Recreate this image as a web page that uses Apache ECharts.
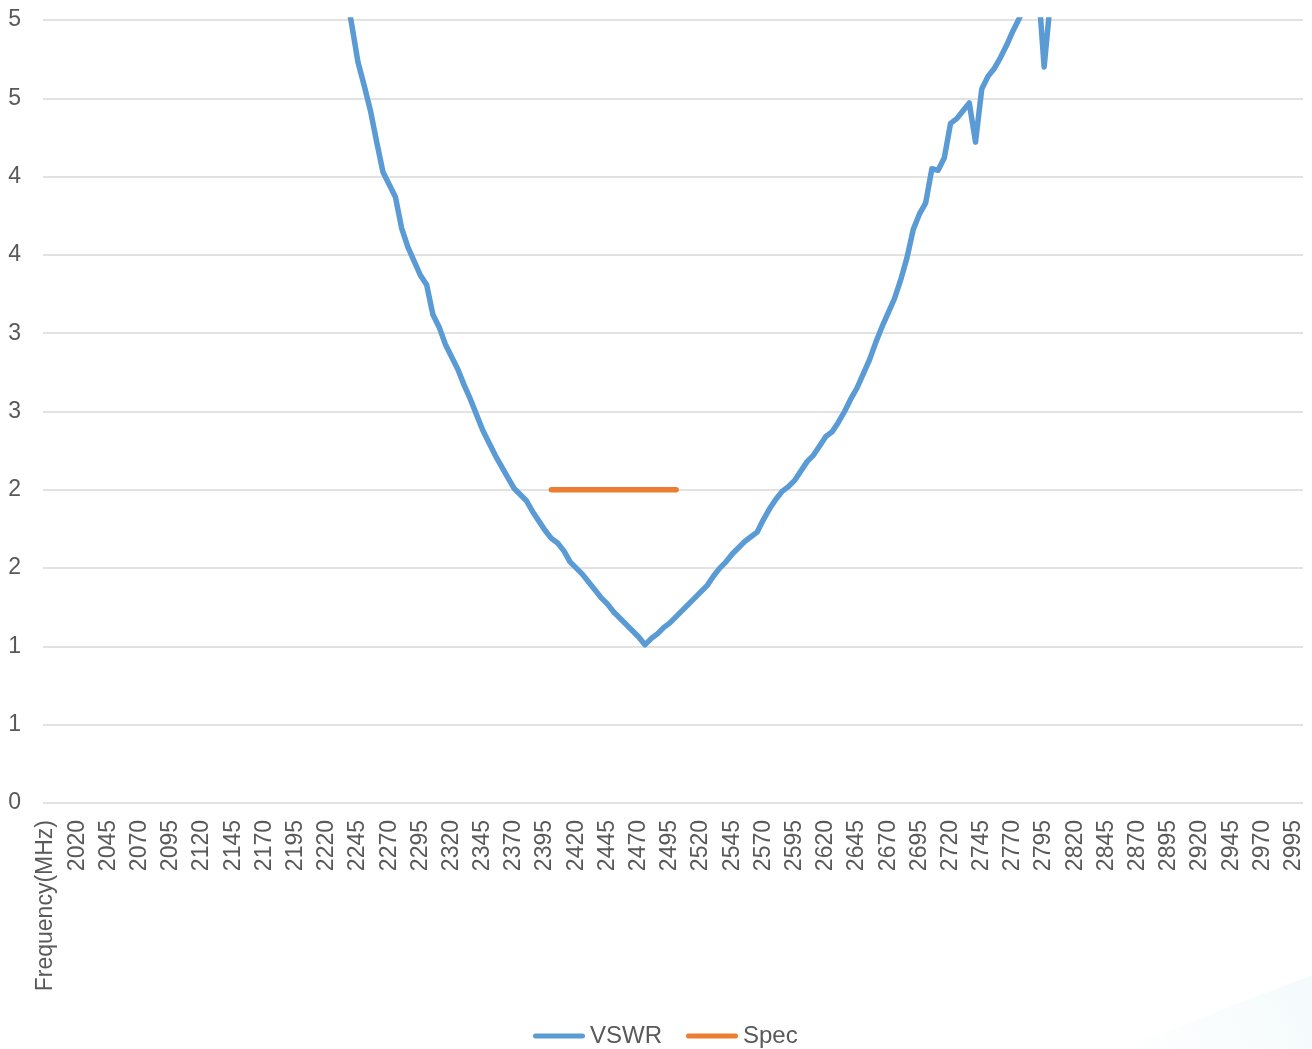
<!DOCTYPE html>
<html>
<head>
<meta charset="utf-8">
<title>VSWR</title>
<script src="https://cdn.jsdelivr.net/npm/echarts@6/dist/echarts.min.js"></script>
<style>
  html, body { margin: 0; padding: 0; background: #fff; }
  #chart { width: 1312px; height: 1049px; }
</style>
</head>
<body>
<div id="chart"></div>
<script>
// first category is the header cell that Excel took as a category
const headerCategory = 'Frequency(MHz)'
const freqs = [
  2000, 2005, 2010, 2015, 2020, 2025, 2030, 2035, 2040, 2045, 2050, 2055, 2060, 2065, 2070, 2075, 2080, 2085, 2090, 2095,
  2100, 2105, 2110, 2115, 2120, 2125, 2130, 2135, 2140, 2145, 2150, 2155, 2160, 2165, 2170, 2175, 2180, 2185, 2190, 2195,
  2200, 2205, 2210, 2215, 2220, 2225, 2230, 2235, 2240, 2245, 2250, 2255, 2260, 2265, 2270, 2275, 2280, 2285, 2290, 2295,
  2300, 2305, 2310, 2315, 2320, 2325, 2330, 2335, 2340, 2345, 2350, 2355, 2360, 2365, 2370, 2375, 2380, 2385, 2390, 2395,
  2400, 2405, 2410, 2415, 2420, 2425, 2430, 2435, 2440, 2445, 2450, 2455, 2460, 2465, 2470, 2475, 2480, 2485, 2490, 2495,
  2500, 2505, 2510, 2515, 2520, 2525, 2530, 2535, 2540, 2545, 2550, 2555, 2560, 2565, 2570, 2575, 2580, 2585, 2590, 2595,
  2600, 2605, 2610, 2615, 2620, 2625, 2630, 2635, 2640, 2645, 2650, 2655, 2660, 2665, 2670, 2675, 2680, 2685, 2690, 2695,
  2700, 2705, 2710, 2715, 2720, 2725, 2730, 2735, 2740, 2745, 2750, 2755, 2760, 2765, 2770, 2775, 2780, 2785, 2790, 2795,
  2800, 2805, 2810, 2815, 2820, 2825, 2830, 2835, 2840, 2845, 2850, 2855, 2860, 2865, 2870, 2875, 2880, 2885, 2890, 2895,
  2900, 2905, 2910, 2915, 2920, 2925, 2930, 2935, 2940, 2945, 2950, 2955, 2960, 2965, 2970, 2975, 2980, 2985, 2990, 2995,
  3000
]

// 2000 - 2235 (off the top of the plot)
const vswrLow = [
  15.9, 15.8, 15.8, 15.8, 15.7, 15.7, 15.6, 15.6, 15.5, 15.4, 15.3, 15.2, 15.0, 14.9, 14.7, 14.5, 14.3, 14.1, 13.9, 13.6,
  13.4, 13.1, 12.8, 12.5, 12.2, 11.9, 11.6, 11.3, 10.9, 10.6, 10.3, 9.95, 9.61, 9.27, 8.93, 8.60, 8.27, 7.95, 7.63, 7.32,
  7.02, 6.73, 6.45, 6.18, 5.92, 5.67, 5.43, 5.19
]
// 2240 - 2800
const vswrBand = [
  4.97, 4.73, 4.58, 4.42, 4.22, 4.03, 3.95, 3.87, 3.67, 3.55,
  3.46, 3.37, 3.31, 3.12, 3.04, 2.93, 2.85, 2.77, 2.67, 2.58,
  2.48, 2.38, 2.30, 2.22, 2.15, 2.08, 2.01, 1.97, 1.93, 1.86,
  1.80, 1.74, 1.69, 1.66, 1.61, 1.54, 1.50, 1.46, 1.41, 1.36,
  1.31, 1.27, 1.22, 1.18, 1.14, 1.10, 1.06, 1.01, 1.05, 1.08,
  1.12, 1.15, 1.19, 1.23, 1.27, 1.31, 1.35, 1.39, 1.45, 1.50,
  1.54, 1.59, 1.63, 1.67, 1.70, 1.73, 1.81, 1.88, 1.94, 1.99,
  2.02, 2.06, 2.12, 2.18, 2.22, 2.28, 2.34, 2.37, 2.43, 2.50,
  2.58, 2.65, 2.74, 2.83, 2.94, 3.04, 3.13, 3.22, 3.34, 3.48,
  3.66, 3.76, 3.83, 4.05, 4.04, 4.12, 4.34, 4.37, 4.42, 4.47,
  4.22, 4.56, 4.64, 4.69, 4.76, 4.84, 4.93, 5.01, 5.09, 5.17,
  5.25, 4.70, 5.12
]
// 2805 - 3000 (off the top of the plot)
const vswrHigh = [
  5.30, 5.45, 5.60, 5.78, 5.95, 6.13, 6.32, 6.52, 6.73, 6.94, 7.15, 7.37, 7.60, 7.83, 8.06, 8.30, 8.54, 8.79, 9.04, 9.29,
  9.55, 9.80, 10.1, 10.3, 10.6, 10.8, 11.1, 11.3, 11.6, 11.8, 12.0, 12.3, 12.5, 12.7, 12.9, 13.1, 13.3, 13.5, 13.7, 13.9
]
const vswr = vswrLow.concat(vswrBand, vswrHigh)

const specFreqs = [2400, 2500]
const specLevel = [2, 2]

// Excel showed 0.5 steps rounded to whole numbers
const yTickLabels = ['0', '1', '1', '2', '2', '3', '3', '4', '4', '5', '5']

const textColor = '#595959'
const fontFamily = '"Liberation Sans", Arial, sans-serif'
const pill = 'path://M2.5,0H49.5A2.5,2.5,0,0,1,49.5,5H2.5A2.5,2.5,0,0,1,2.5,0Z'

const categories = [headerCategory].concat(freqs.map(String))

const chart = echarts.init(document.getElementById('chart'))
chart.setOption({
  animation: false,
  color: ['#5B9BD5', '#ED7D31'],
  textStyle: { fontFamily: fontFamily },
  grid: { left: 43, right: 9, top: 20, bottom: 246, containLabel: false },
  // faint corner decoration of the slide background
  graphic: [
    {
      type: 'polygon',
      silent: true,
      z: -10,
      shape: { points: [[1120, 1049], [1312, 975], [1312, 1049]] },
      style: {
        fill: new echarts.graphic.LinearGradient(0, 1, 1, 0, [
          { offset: 0, color: 'rgba(230,245,248,0)' },
          { offset: 1, color: 'rgba(230,245,248,0.45)' }
        ])
      }
    }
  ],
  legend: {
    left: 528,
    top: 1019,
    itemWidth: 52,
    itemHeight: 5,
    itemGap: 24,
    textStyle: { color: textColor, fontSize: 24, fontFamily: fontFamily },
    data: [
      { name: 'VSWR', icon: pill },
      { name: 'Spec', icon: pill }
    ]
  },
  xAxis: {
    type: 'category',
    data: categories,
    boundaryGap: true,
    axisLine: { show: false },
    axisTick: { show: false },
    axisLabel: {
      interval: 4,
      rotate: 90,
      margin: 17,
      color: textColor,
      fontSize: 23,
      fontFamily: fontFamily
    }
  },
  yAxis: {
    type: 'value',
    min: 0,
    max: 5,
    interval: 0.5,
    axisLine: { show: false },
    axisTick: { show: false },
    axisLabel: {
      margin: 22,
      color: textColor,
      fontSize: 23,
      fontFamily: fontFamily,
      formatter: (v) => yTickLabels[Math.round(v / 0.5)]
    },
    splitLine: { lineStyle: { color: '#d9d9d9', width: 1.5 } }
  },
  series: [
    {
      name: 'VSWR',
      type: 'line',
      data: freqs.map((f, i) => [String(f), vswr[i]]),
      symbol: 'none',
      clip: true,
      lineStyle: { width: 5.5, cap: 'round', join: 'round' }
    },
    {
      name: 'Spec',
      type: 'line',
      data: specFreqs.map((f, i) => [String(f), specLevel[i]]),
      symbol: 'none',
      lineStyle: { width: 5.5, cap: 'round', join: 'round' }
    }
  ]
})
</script>
</body>
</html>
